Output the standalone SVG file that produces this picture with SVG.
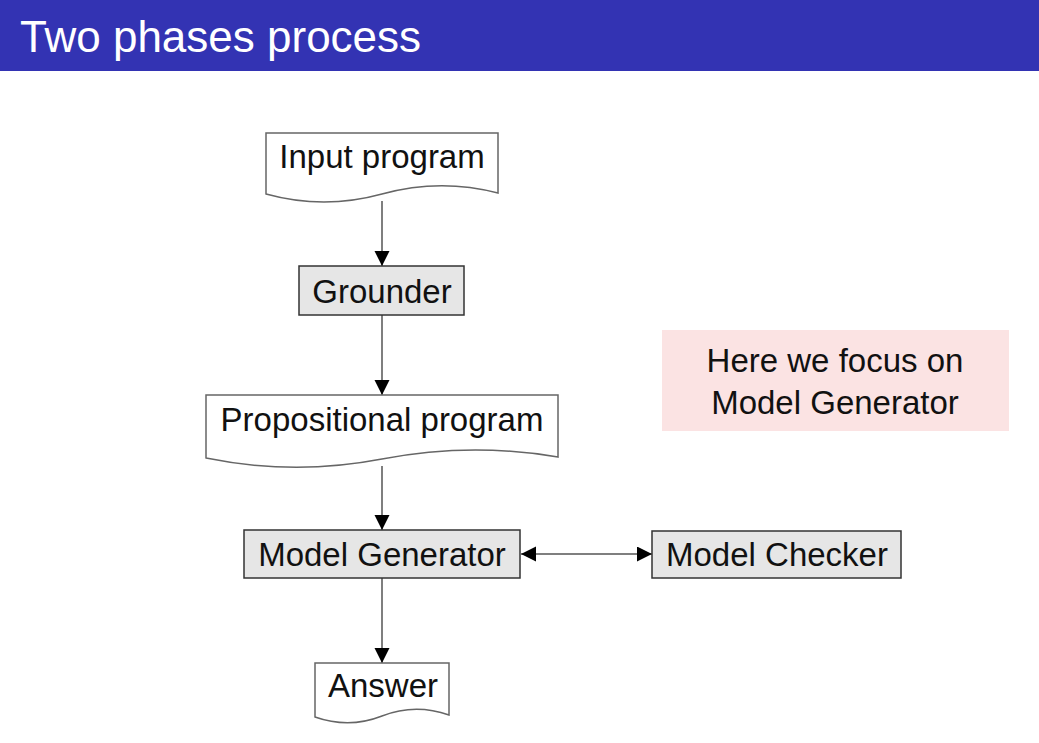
<svg xmlns="http://www.w3.org/2000/svg" width="1039" height="743" viewBox="0 0 1039 743">
  <style>
    .lbl { font-family: "Liberation Sans", Arial, sans-serif; font-size: 33px; fill: #111; text-anchor: middle; }
    .title { font-family: "Liberation Sans", Arial, sans-serif; font-size: 44px; fill: #ffffff; }
    .doc { fill: #ffffff; stroke: #666; stroke-width: 1.5; }
    .proc { fill: #e6e6e6; stroke: #333; stroke-width: 1.5; }
    .edge { stroke: #555; stroke-width: 1.5; fill: none; }
  </style>
  <defs>
    <marker id="arrow" markerUnits="userSpaceOnUse" markerWidth="16" markerHeight="16" refX="15" refY="7.5" orient="auto-start-reverse">
      <path d="M0,0 L15,7.5 L0,15 Z" fill="#000"/>
    </marker>
  </defs>

  <rect width="1039" height="743" fill="#ffffff"/>

  <!-- title bar -->
  <g id="header">
    <rect x="0" y="0" width="1039" height="71" fill="#3333b3"/>
    <text class="title" x="20" y="52">Two phases process</text>
  </g>

  <!-- connectors -->
  <g id="connectors">
    <line class="edge" x1="382" y1="201" x2="382" y2="266" marker-end="url(#arrow)"/>
    <line class="edge" x1="382" y1="315" x2="382" y2="395" marker-end="url(#arrow)"/>
    <line class="edge" x1="382" y1="466" x2="382" y2="530" marker-end="url(#arrow)"/>
    <line class="edge" x1="382" y1="578" x2="382" y2="663" marker-end="url(#arrow)"/>
    <line class="edge" x1="521" y1="554" x2="652" y2="554" marker-start="url(#arrow)" marker-end="url(#arrow)"/>
  </g>

  <g id="input-program">
    <path class="doc" d="M266,133 H498 V193 Q440,178 382,194 T266,194 Z"/>
    <text class="lbl" x="382" y="168">Input program</text>
  </g>

  <g id="grounder">
    <rect class="proc" x="299" y="266" width="165" height="49"/>
    <text class="lbl" x="382" y="303">Grounder</text>
  </g>

  <g id="propositional-program">
    <path class="doc" d="M206,395 H558 V457 Q470,442 382,459 T206,458 Z"/>
    <text class="lbl" x="382" y="431">Propositional program</text>
  </g>

  <g id="model-generator">
    <rect class="proc" x="244" y="530" width="276" height="48"/>
    <text class="lbl" x="382" y="566">Model Generator</text>
  </g>

  <g id="model-checker">
    <rect class="proc" x="652" y="531" width="249" height="47"/>
    <text class="lbl" x="777" y="566">Model Checker</text>
  </g>

  <g id="answer">
    <path class="doc" d="M315,663 H449 V715 Q415,703 382,716 T315,717 Z"/>
    <text class="lbl" x="383" y="697">Answer</text>
  </g>

  <g id="note">
    <rect x="662" y="330" width="347" height="101" fill="#fbe3e3"/>
    <text class="lbl" x="835" y="372">Here we focus on</text>
    <text class="lbl" x="835" y="414">Model Generator</text>
  </g>
</svg>
